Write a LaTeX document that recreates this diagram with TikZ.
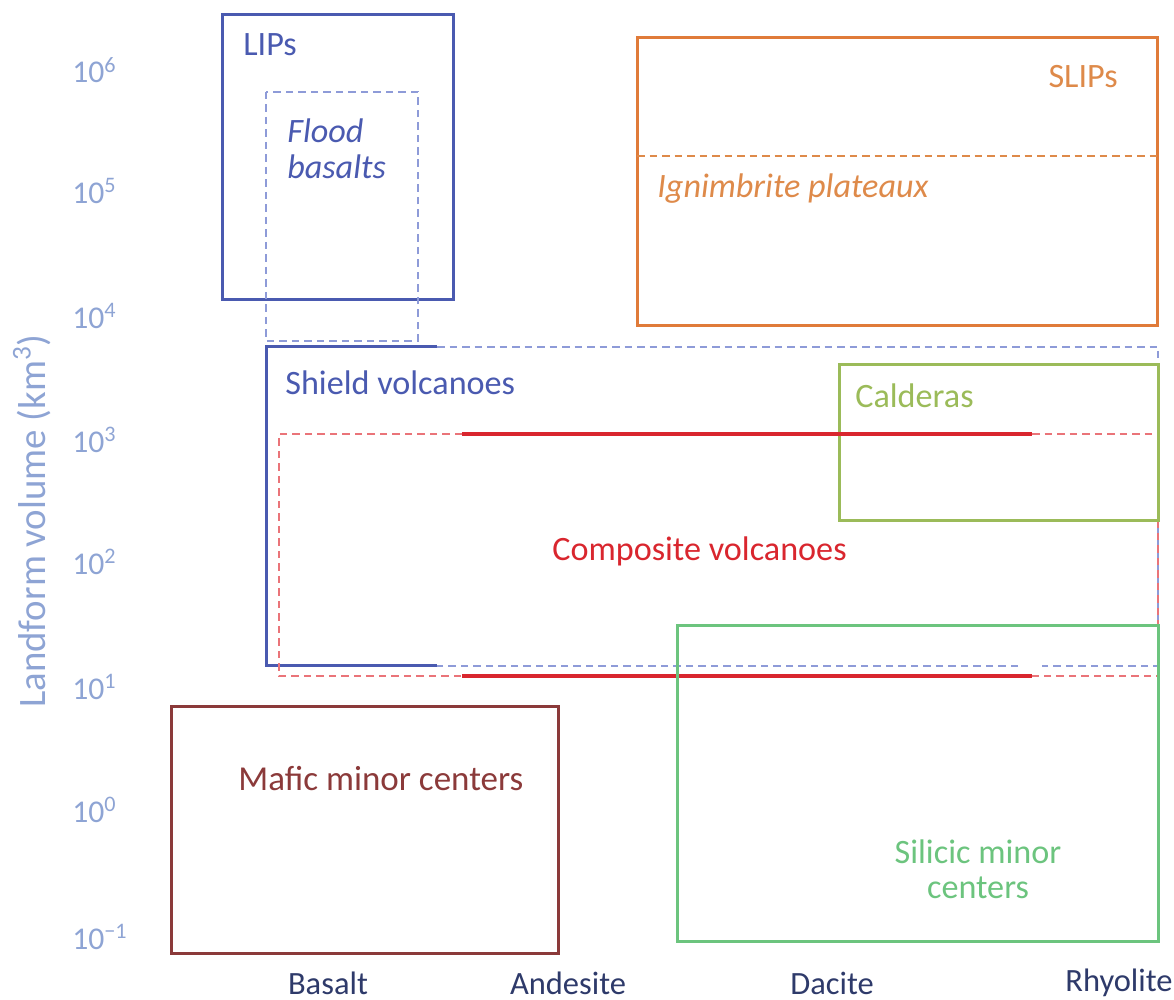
\documentclass[tikz,border=0pt]{standalone}
\usepackage{fontspec}
\setmainfont{Carlito}
\definecolor{lipblue}{HTML}{4A5AB0}
\definecolor{lightblue}{HTML}{8E9BD8}
\definecolor{compred}{HTML}{D9262E}
\definecolor{lightred}{HTML}{EA7479}
\definecolor{slipor}{HTML}{E07B39}
\definecolor{sliptext}{HTML}{DE8A4A}
\definecolor{caldgreen}{HTML}{9BBB59}
\definecolor{silgreen}{HTML}{6CC47E}
\definecolor{maficbrown}{HTML}{8B3A3A}
\definecolor{ticklab}{HTML}{8EA4D4}
\definecolor{xlab}{HTML}{2E3A6A}
\begin{document}
\begin{tikzpicture}[x=0.6pt,y=-0.6pt,
  solidbox/.style={line width=1.8pt},
  dashline/.style={line width=0.9pt, dash pattern=on 4.5pt off 3pt},
  thickred/.style={line width=2.4pt, compred},
  lab/.style={font=\fontsize{20.5}{22}\selectfont, inner sep=0pt},
  ilab/.style={font=\fontsize{20.5}{22}\selectfont\itshape, inner sep=0pt},
  tick/.style={font=\fontsize{19}{21}\selectfont, text=ticklab, inner sep=0pt, anchor=west},
  xaxis/.style={font=\fontsize{19.5}{22}\selectfont, text=xlab, inner sep=0pt}]
\useasboundingbox (0,0) rectangle (1174,1000);

% LIPs and flood basalts
\draw[solidbox, lipblue] (222,15) rectangle (453,300);
\draw[dashline, lightblue] (266,92) rectangle (418,341);
\node[lab, text=lipblue, anchor=west] (lips) at (243,45) {LIPs};
\node[ilab, text=lipblue, anchor=north west, align=left] (flood) at (287,118) {Flood\\basalts};

% SLIPs
\draw[solidbox, slipor] (637,38) rectangle (1157,326);
\draw[dashline, sliptext] (637,156) -- (1157,156);
\node[lab, text=sliptext, anchor=east] (slips) at (1118,77) {SLIPs};
\node[ilab, text=sliptext, anchor=west] (ign) at (657,189) {Ignimbrite plateaux};

% Shield volcanoes
\draw[dashline, lightblue] (437,347) -- (1158,347) -- (1158,666) -- (1042,666);
\draw[dashline, lightblue] (1018,666) -- (437,666);
\draw[solidbox, lipblue] (437,347) -- (266,347) -- (266,666) -- (437,666);
\node[lab, text=lipblue, anchor=west] (shield) at (285,383) {Shield volcanoes};

% Composite volcanoes
\draw[dashline, lightred] (462,434) -- (279,434) -- (279,676) -- (462,676);
\draw[dashline, lightred] (1032,434) -- (1158,434) -- (1158,676) -- (1032,676);
\draw[solidbox, caldgreen] (839,365) rectangle (1158,521);
\draw[thickred] (462,434) -- (1032,434);
\draw[thickred] (462,676) -- (1032,676);
\node[lab, text=compred, anchor=west] (comp) at (552,551) {Composite volcanoes};
\node[lab, text=caldgreen, anchor=west] (cald) at (855,396) {Calderas};

% Minor centers
\draw[solidbox, silgreen] (677,626) rectangle (1158,942);
\draw[solidbox, maficbrown] (171,707) rectangle (558,954);
\node[lab, text=maficbrown, anchor=west, font=\fontsize{21}{22}\selectfont] (mafic) at (238,779) {Mafic minor centers};
\node[lab, text=silgreen, align=center, font=\fontsize{20.5}{21}\selectfont] (silicic) at (978,869) {Silicic minor\\centers};

% Y axis
\node[tick] (t6) at (72,70) {10\textsuperscript{6}};
\node[tick] (t5) at (72,191) {10\textsuperscript{5}};
\node[tick] (t4) at (72,316) {10\textsuperscript{4}};
\node[tick] (t3) at (72,440) {10\textsuperscript{3}};
\node[tick] (t2) at (72,562) {10\textsuperscript{2}};
\node[tick] (t1) at (72,687) {10\textsuperscript{1}};
\node[tick] (t0) at (72,810) {10\textsuperscript{0}};
\node[tick] (tm1) at (72,937) {10\textsuperscript{−1}};
\node[lab, text=ticklab, rotate=90, font=\fontsize{23.3}{25}\selectfont] (ylabel) at (32,521) {Landform volume (km\textsuperscript{3})};

% X axis
\node[xaxis] (basalt) at (328,983) {Basalt};
\node[xaxis] (andesite) at (568,983) {Andesite};
\node[xaxis] (dacite) at (832,983) {Dacite};
\node[xaxis] (rhyolite) at (1119,983) {Rhyolite};
\end{tikzpicture}
\end{document}
